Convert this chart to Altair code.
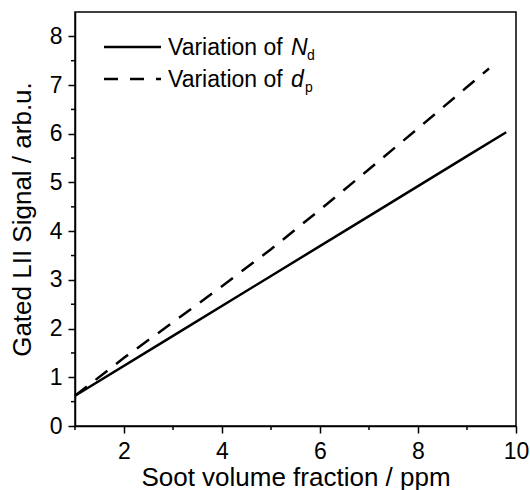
import altair as alt
import pandas as pd

# Data
x_nd = [1.0, 3.0, 5.0, 7.0, 9.0, 9.8]
y_nd = [0.62, 1.85, 3.08, 4.31, 5.54, 6.03]
x_dp = [1.0, 2.0, 3.0, 4.0, 5.0, 6.0, 7.0, 8.0, 9.0, 9.45]
y_dp = [0.62, 1.40, 2.13, 2.87, 3.63, 4.44, 5.27, 6.11, 6.96, 7.34]

x_major = [2, 4, 6, 8, 10]
x_minor = [1, 3, 5, 7, 9]
y_major = [0, 1, 2, 3, 4, 5, 6, 7, 8]
y_minor = [0.5, 1.5, 2.5, 3.5, 4.5, 5.5, 6.5, 7.5]

W, H = 441, 414
FONT = "Liberation Sans"

df_nd = pd.DataFrame({"x": x_nd, "y": y_nd})
df_dp = pd.DataFrame({"x": x_dp, "y": y_dp})

xs = alt.Scale(domain=[1, 10], nice=False)
ys = alt.Scale(domain=[0, 8.5], nice=False)

xaxis = alt.Axis(values=x_major, title="Soot volume fraction / ppm", grid=False,
                 tickSize=7, tickWidth=1.5, tickColor="black", domainColor="black",
                 domainWidth=1.5, labelFont=FONT, labelFontSize=23, labelColor="black",
                 labelPadding=7, titleFont=FONT, titleFontSize=26, titleFontWeight="normal",
                 titleColor="black", titlePadding=1, labelFlush=False)
yaxis = alt.Axis(values=y_major, title="Gated LII Signal / arb.u.", grid=False,
                 tickSize=7, tickWidth=1.5, tickColor="black", domainColor="black",
                 domainWidth=1.5, labelFont=FONT, labelFontSize=23, labelColor="black",
                 labelPadding=6, titleFont=FONT, titleFontSize=26, titleFontWeight="normal",
                 titleColor="black", titlePadding=14, labelFlush=False)

line_nd = alt.Chart(df_nd).mark_line(color="black", strokeWidth=2.5).encode(
    x=alt.X("x:Q", scale=xs, axis=xaxis),
    y=alt.Y("y:Q", scale=ys, axis=yaxis),
)
line_dp = alt.Chart(df_dp).mark_line(color="black", strokeWidth=2.5, strokeDash=[15, 11]).encode(
    x=alt.X("x:Q", scale=xs),
    y=alt.Y("y:Q", scale=ys),
)

minor_x = alt.Chart(pd.DataFrame({"x": x_minor})).mark_rule(color="black", strokeWidth=1.5).encode(
    x=alt.X("x:Q", scale=xs), y=alt.value(H), y2=alt.value(H + 4)
)
minor_y = alt.Chart(pd.DataFrame({"y": y_minor})).mark_rule(color="black", strokeWidth=1.5).encode(
    y=alt.Y("y:Q", scale=ys), x=alt.value(0), x2=alt.value(-4)
)

one = pd.DataFrame({"a": [0]})
leg_solid = alt.Chart(one).mark_rule(color="black", strokeWidth=2.5).encode(
    x=alt.value(29), x2=alt.value(86), y=alt.value(35)
)
leg_dash = alt.Chart(one).mark_rule(color="black", strokeWidth=2.5, strokeDash=[14, 12]).encode(
    x=alt.value(29), x2=alt.value(86), y=alt.value(67)
)

def txt(s, x, y, size=23, style="normal"):
    return alt.Chart(one).mark_text(align="left", baseline="alphabetic", font=FONT,
                                    fontSize=size, fontStyle=style, color="black").encode(
        x=alt.value(x), y=alt.value(y), text=alt.value(s))

legend = [
    txt("Variation of", 93, 43),
    txt("N", 216, 43, style="italic"),
    txt("d", 232, 48, size=14),
    txt("Variation of", 93, 75),
    txt("d", 216, 75, style="italic"),
    txt("p", 230, 80, size=14),
]

chart = alt.layer(line_nd, line_dp, minor_x, minor_y, leg_solid, leg_dash, *legend).properties(
    width=W, height=H,
    autosize=alt.AutoSizeParams(type="none"),
    padding={"left": 75, "top": 12, "right": 14, "bottom": 64},
    background="white",
).configure_view(stroke="black", strokeWidth=1.5)

chart.save("out.html", embed_options={"renderer": "svg", "actions": False})
